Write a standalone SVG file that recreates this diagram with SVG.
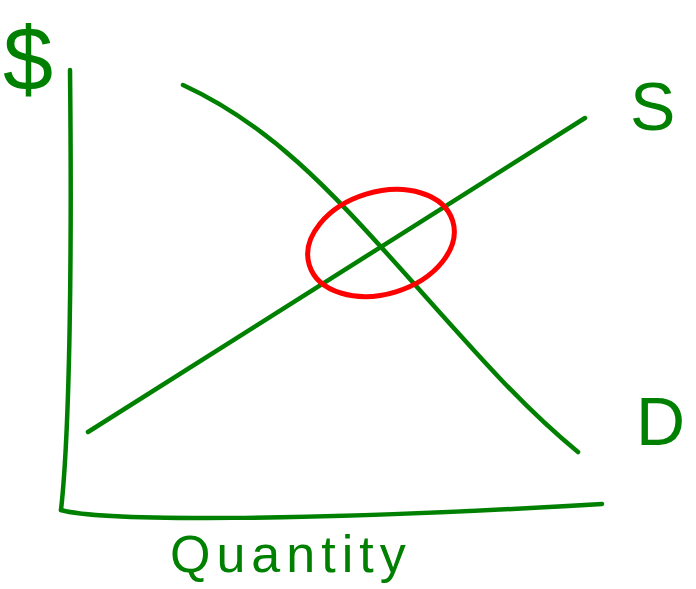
<svg xmlns="http://www.w3.org/2000/svg" width="696" height="589" viewBox="0 0 696 589">
<style>
.ln{fill:none;stroke:#008000;stroke-width:4.5;stroke-linecap:round;stroke-linejoin:round}
.lb{fill:#008000;font-family:"Liberation Sans",Arial,sans-serif}
</style>
<rect width="696" height="589" fill="#fff"/>
<g id="connectors">
<path id="y-axis" class="ln" d="M70,70 C72,250 70,430 61,510"/>
<path id="x-axis" class="ln" d="M61,510 C100,521 300,522 602,504"/>
<path id="supply" class="ln" d="M88,432 C250,330 420,222 585,118"/>
<path id="demand" class="ln" d="M183,85 C270,125 330,190 400,268 S520,405 578,452"/>
</g>
<g id="equilibrium">
<ellipse cx="381" cy="243" rx="75" ry="51" transform="rotate(-17 381 243)" fill="none" stroke="#ff0000" stroke-width="5"/>
</g>
<g id="label-dollar"><text class="lb" x="3" y="90" font-size="90">$</text></g>
<g id="label-s"><text class="lb" x="630" y="130" font-size="68">S</text></g>
<g id="label-d"><text class="lb" x="636" y="445" font-size="68">D</text></g>
<g id="label-quantity"><text class="lb" x="170" y="572" font-size="52" letter-spacing="6">Quantity</text></g>
</svg>
